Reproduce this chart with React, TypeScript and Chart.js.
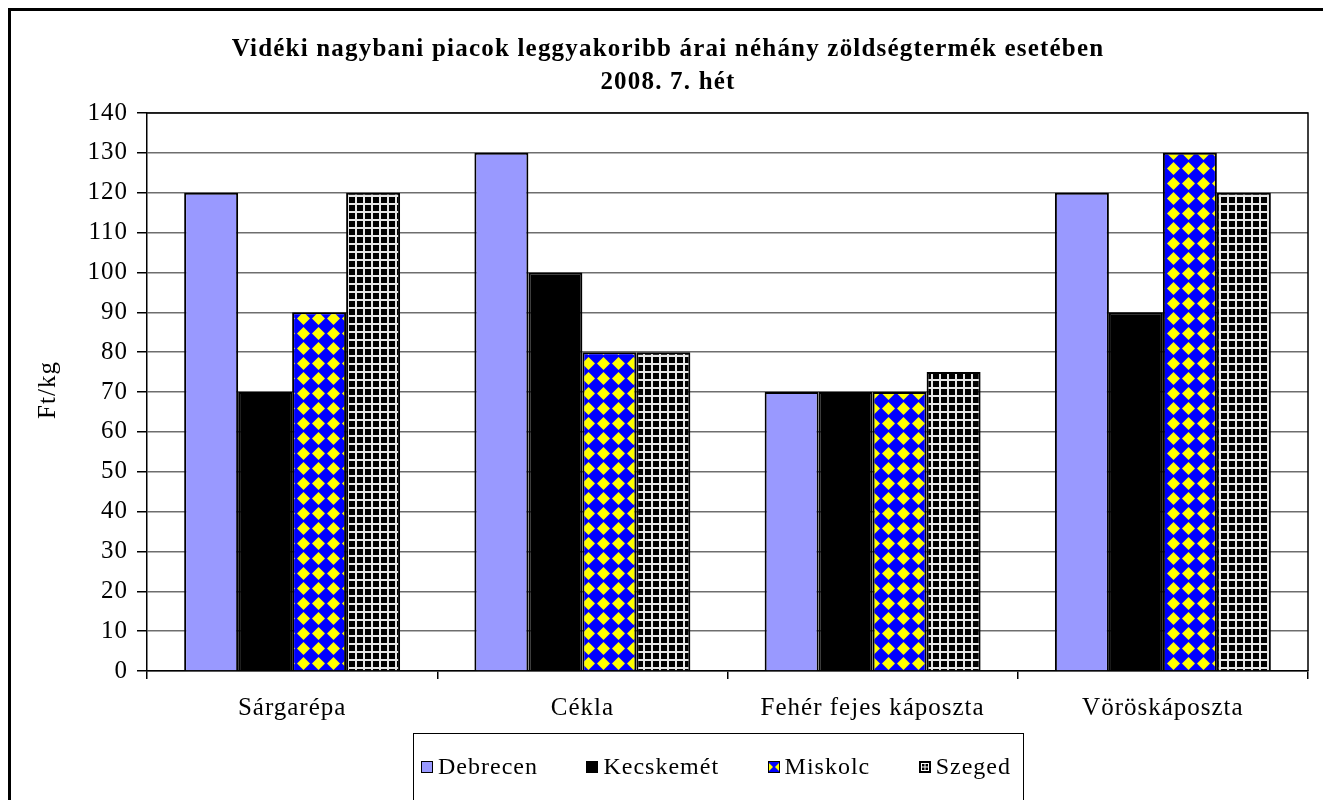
import React, { useEffect, useRef } from "react";
import { Chart, registerables } from "chart.js";

Chart.register(...registerables);

const titleLines = ["Vidéki nagybani piacok leggyakoribb árai néhány zöldségtermék esetében", "2008. 7. hét"];
const yAxisTitle = "Ft/kg";
const categories = ["Sárgarépa", "Cékla", "Fehér fejes káposzta", "Vöröskáposzta"];
const seriesNames = ["Debrecen", "Kecskemét", "Miskolc", "Szeged"];
const debrecen = [120, 130, 70, 120];
const kecskemet = [70, 100, 70, 90];
const miskolc = [90, 80, 70, 130];
const szeged = [120, 80, 75, 120];
const yMin = 0;
const yMax = 140;
const yStep = 10;

const FONT = "'Liberation Serif'";
const SPACING = "1px";

function makeDiamondPattern(ctx: CanvasRenderingContext2D) {
  const c = document.createElement("canvas");
  const s = 15;
  c.width = s;
  c.height = s;
  const g = c.getContext("2d")!;
  g.fillStyle = "#0000FF";
  g.fillRect(0, 0, s, s);
  g.fillStyle = "#FFFF00";
  g.beginPath();
  g.moveTo(7.5, 1);
  g.lineTo(14, 7.5);
  g.lineTo(7.5, 14);
  g.lineTo(1, 7.5);
  g.closePath();
  g.fill();
  return ctx.createPattern(c, "repeat")!;
}

function makeGridPattern(ctx: CanvasRenderingContext2D) {
  const c = document.createElement("canvas");
  const s = 8;
  c.width = s;
  c.height = s;
  const g = c.getContext("2d")!;
  g.fillStyle = "#000";
  g.fillRect(0, 0, s, s);
  g.fillStyle = "#e6e6e6";
  g.fillRect(0, 0, s, 2);
  g.fillRect(0, 0, 2, s);
  return ctx.createPattern(c, "repeat")!;
}

function drawMarker(ctx: CanvasRenderingContext2D, i: number, x: number, y: number, bg: any) {
  const s = 12;
  if (i === 0) {
    ctx.fillStyle = bg;
    ctx.fillRect(x, y, s, s);
  } else if (i === 1) {
    ctx.fillStyle = "#000";
    ctx.fillRect(x, y, s, s);
  } else if (i === 2) {
    ctx.fillStyle = "#0000FF";
    ctx.fillRect(x, y, s, s);
    ctx.fillStyle = "#FFFF00";
    ctx.beginPath();
    ctx.moveTo(x + 1, y + 2);
    ctx.lineTo(x + 5, y + 6);
    ctx.lineTo(x + 1, y + 10);
    ctx.closePath();
    ctx.fill();
    ctx.beginPath();
    ctx.moveTo(x + s - 1, y + 2);
    ctx.lineTo(x + s - 5, y + 6);
    ctx.lineTo(x + s - 1, y + 10);
    ctx.closePath();
    ctx.fill();
  } else {
    ctx.fillStyle = "#000";
    ctx.fillRect(x, y, s, s);
    ctx.strokeStyle = "#fff";
    ctx.lineWidth = 1;
    ctx.strokeRect(x + 2.5, y + 2.5, s - 5, s - 5);
    ctx.beginPath();
    ctx.moveTo(x + 6, y + 2);
    ctx.lineTo(x + 6, y + 10);
    ctx.moveTo(x + 2, y + 6);
    ctx.lineTo(x + 10, y + 6);
    ctx.stroke();
  }
  ctx.strokeStyle = "#000";
  ctx.lineWidth = 1;
  ctx.strokeRect(x + 0.5, y + 0.5, s - 1, s - 1);
}

const decor = {
  id: "decor",
  beforeUpdate(chart: any) {
    chart.ctx.letterSpacing = SPACING;
  },
  beforeLayout(chart: any) {
    chart.ctx.letterSpacing = SPACING;
  },
  beforeDraw(chart: any) {
    chart.ctx.letterSpacing = SPACING;
  },
  afterDraw(chart: any) {
    const ctx: CanvasRenderingContext2D = chart.ctx;
    const a = chart.chartArea;
    ctx.save();
    ctx.strokeStyle = "#000";
    ctx.lineWidth = 1.5;
    ctx.beginPath();
    ctx.moveTo(a.left, a.top);
    ctx.lineTo(a.right, a.top);
    ctx.lineTo(a.right, a.bottom);
    ctx.stroke();

    ctx.fillStyle = "#000";
    ctx.letterSpacing = "1.2px";
    ctx.font = `bold 25px ${FONT}`;
    ctx.textAlign = "center";
    ctx.textBaseline = "middle";
    ctx.fillText(titleLines[0], 657, 39);
    ctx.fillText(titleLines[1], 657, 72);

    ctx.letterSpacing = SPACING;
    ctx.save();
    ctx.translate(37, 379);
    ctx.rotate(-Math.PI / 2);
    ctx.font = `25px ${FONT}`;
    ctx.fillText(yAxisTitle, 0, 0);
    ctx.restore();

    // legend box fixed to reference bounds, items spread inside
    ctx.font = `24px ${FONT}`;
    const widths = chart.data.datasets.map((d: any) => ctx.measureText(d.label).width);
    const left = 402, right = 1012, top = 722, bottom = 792, cy = 756;
    const padL = 8, padR = 12, box = 12, gap = 5;
    let used = padL + padR;
    widths.forEach((w: number) => (used += box + gap + w));
    const between = (right - left - used) / (widths.length - 1);
    ctx.strokeStyle = "#000";
    ctx.lineWidth = 1;
    ctx.strokeRect(left + 0.5, top + 0.5, right - left, bottom - top);
    let x = left + padL;
    ctx.textAlign = "left";
    chart.data.datasets.forEach((d: any, i: number) => {
      drawMarker(ctx, i, Math.round(x), cy - 6, d.backgroundColor);
      x += box + gap;
      ctx.fillStyle = "#000";
      ctx.fillText(d.label, x, cy + 1);
      x += widths[i] + between;
    });
    ctx.restore();
  },
};

export default function App() {
  const ref = useRef<HTMLCanvasElement>(null);
  useEffect(() => {
    let chart: any = null;
    let cancelled = false;
    const build = () => {
      if (cancelled) return;
      const canvas = ref.current!;
      const ctx = canvas.getContext("2d")!;
      const diamond = makeDiamondPattern(ctx);
      const grid = makeGridPattern(ctx);
      const values = [debrecen, kecskemet, miskolc, szeged];
      const fills: any[] = ["#9999FF", "#000000", diamond, grid];
      chart = new Chart(canvas, {
        type: "bar",
        data: {
          labels: categories,
          datasets: seriesNames.map((name, i) => ({
            label: name,
            data: values[i],
            backgroundColor: fills[i],
            borderColor: "#000",
            borderWidth: 2,
            barPercentage: 1,
            categoryPercentage: 0.744,
          })),
        },
        options: {
          responsive: false,
          devicePixelRatio: 1,
          animation: false,
          layout: { padding: { top: 102, right: 16, left: 0, bottom: 0 } },
          plugins: {
            legend: { display: false },
            title: { display: false },
            tooltip: { enabled: false },
          },
          scales: {
            x: {
              afterFit: (s: any) => {
                s.height = 140;
              },
              grid: {
                drawOnChartArea: false,
                offset: true,
                tickLength: 8,
                tickColor: "#000",
                lineWidth: 1.5,
              },
              border: { color: "#000", width: 1.5 },
              ticks: {
                color: "#000",
                font: { family: FONT, size: 25 },
                padding: 14,
                maxRotation: 0,
                autoSkip: false,
              },
            },
            y: {
              min: yMin,
              max: yMax,
              afterFit: (s: any) => {
                s.width = 136;
              },
              grid: {
                color: "#6e6e6e",
                lineWidth: 1.5,
                tickLength: 10,
                tickColor: "#000",
              },
              border: { color: "#000", width: 1.5 },
              ticks: {
                stepSize: yStep,
                color: "#000",
                font: { family: FONT, size: 25 },
                padding: 9,
              },
            },
          },
        },
        plugins: [decor],
      });
    };
    const fonts: any = (document as any).fonts;
    if (fonts && fonts.load) {
      Promise.all([
        fonts.load(`25px ${FONT}`),
        fonts.load(`bold 25px ${FONT}`),
      ]).then(build, build);
    } else {
      build();
    }
    return () => {
      cancelled = true;
      if (chart) chart.destroy();
    };
  }, []);
  return (
    <div style={{ border: "3px solid #000", width: 1313, height: 820, background: "#fff" }}>
      <canvas ref={ref} width={1313} height={800} style={{ display: "block" }} />
    </div>
  );
}
